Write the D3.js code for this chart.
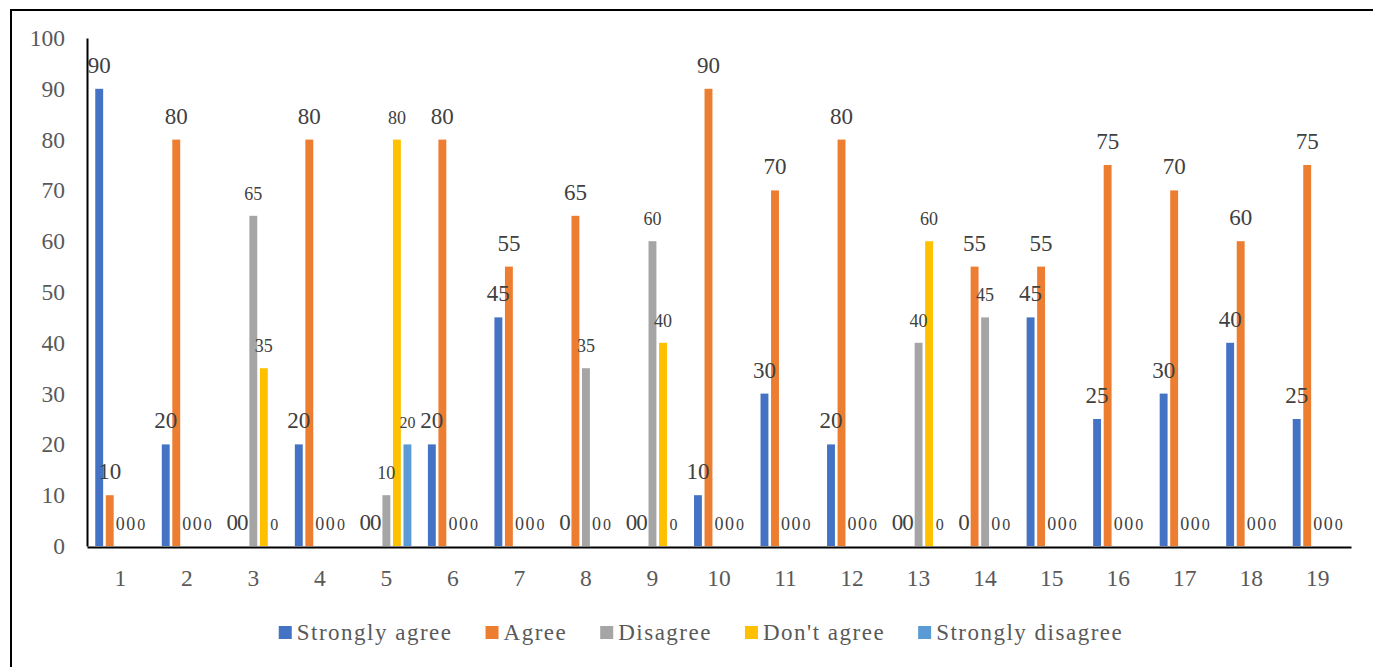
<!DOCTYPE html>
<html>
<head>
<meta charset="utf-8">
<script src="https://cdn.jsdelivr.net/npm/d3@7"></script>
<style>
  html, body { margin: 0; padding: 0; background: #fff; }
  svg { display: block; }
  text { font-family: "Palatino Linotype", "Book Antiqua", Palatino, "Liberation Serif", serif; }
</style>
</head>
<body>
<svg id="chart" width="1373" height="667"></svg>
<script>
// Survey responses per question (percent of respondents)
const questions = ["1","2","3","4","5","6","7","8","9","10","11","12","13","14","15","16","17","18","19"];
const seriesNames = ["Strongly agree", "Agree", "Disagree", "Don't agree", "Strongly disagree"];
const stronglyAgree    = [90, 20,  0, 20,  0, 20, 45,  0,  0, 10, 30, 20,  0,  0, 45, 25, 30, 40, 25];
const agree            = [10, 80,  0, 80,  0, 80, 55, 65,  0, 90, 70, 80,  0, 55, 55, 75, 70, 60, 75];
const disagree         = [ 0,  0, 65,  0, 10,  0,  0, 35, 60,  0,  0,  0, 40, 45,  0,  0,  0,  0,  0];
const dontAgree        = [ 0,  0, 35,  0, 80,  0,  0,  0, 40,  0,  0,  0, 60,  0,  0,  0,  0,  0,  0];
const stronglyDisagree = [ 0,  0,  0,  0, 20,  0,  0,  0,  0,  0,  0,  0,  0,  0,  0,  0,  0,  0,  0];
const yTicks = [0, 10, 20, 30, 40, 50, 60, 70, 80, 90, 100];

const seriesValues = [stronglyAgree, agree, disagree, dontAgree, stronglyDisagree];
const colors = ["#4472C4", "#ED7D31", "#A5A5A5", "#FFC000", "#5B9BD5"];
const labelSizes = [23, 23, 18, 18, 16];
const FONT = "\"Palatino Linotype\", \"Book Antiqua\", Palatino, \"Liberation Serif\", serif";

const svg = d3.select("#chart");
const W = 1373, H = 667;
const plot = { left: 87, right: 1351, top: 38, bottom: 546 };

// outer frame
svg.append("rect")
  .attr("x", 11).attr("y", 10)
  .attr("width", W + 40).attr("height", H + 40)
  .attr("fill", "none").attr("stroke", "#000").attr("stroke-width", 2);

const x = d3.scaleBand().domain(questions).range([plot.left, plot.right]).padding(0);
const sub = d3.scaleBand().domain(seriesNames).range([-25, 25]).paddingInner(0.25).paddingOuter(0);
const y = d3.scaleLinear().domain([0, 100]).range([plot.bottom, plot.top]);

// bars + value labels
const rows = [];
seriesNames.forEach((s, si) => {
  questions.forEach((q, qi) => rows.push({ s, si, q, v: seriesValues[si][qi] }));
});

const g = svg.append("g");
g.selectAll("rect.bar").data(rows).join("rect")
  .attr("class", "bar")
  .attr("x", d => x(d.q) + x.bandwidth() / 2 + sub(d.s))
  .attr("width", sub.bandwidth())
  .attr("y", d => y(d.v))
  .attr("height", d => y(0) - y(d.v))
  .attr("fill", d => colors[d.si]);

g.selectAll("text.lbl").data(rows).join("text")
  .attr("class", "lbl")
  .attr("x", d => x(d.q) + x.bandwidth() / 2 + sub(d.s) + sub.bandwidth() / 2)
  .attr("y", d => y(d.v) - 16)
  .attr("text-anchor", "middle")
  .attr("font-size", d => labelSizes[d.si])
  .attr("fill", "#404040")
  .text(d => d.v);

// axes
const yAxis = svg.append("g")
  .attr("transform", `translate(${plot.left},0)`)
  .call(d3.axisLeft(y).tickValues(yTicks).tickSize(0).tickSizeOuter(0).tickPadding(22));
yAxis.select(".domain").attr("stroke", "#000").attr("stroke-width", 2);
yAxis.selectAll("text").attr("font-size", 23.5).attr("fill", "#595959").attr("font-family", FONT);

const xAxis = svg.append("g")
  .attr("transform", `translate(0,${plot.bottom + 1})`)
  .call(d3.axisBottom(x).tickSize(0).tickSizeOuter(0).tickPadding(22));
xAxis.select(".domain").attr("stroke", "#000").attr("stroke-width", 2);
xAxis.selectAll("text").attr("font-size", 23.5).attr("fill", "#595959").attr("font-family", FONT);

// legend
const legend = svg.append("g");
const items = legend.selectAll("g").data(seriesNames).join("g");
items.append("rect")
  .attr("width", 13).attr("height", 13)
  .attr("y", 626)
  .attr("fill", (d, i) => colors[i]);
items.append("text")
  .attr("y", 640)
  .attr("font-size", 23)
  .attr("letter-spacing", 1.5)
  .attr("fill", "#595959")
  .text(d => d);
const widths = [];
items.select("text").each(function () { widths.push(this.getComputedTextLength()); });
const itemW = widths.map(w => 13 + 5 + w);
const gap = 33;
const total = d3.sum(itemW) + gap * (itemW.length - 1);
let cx = 701 - total / 2;
items.each(function (d, i) {
  const it = d3.select(this);
  it.select("rect").attr("x", cx);
  it.select("text").attr("x", cx + 18);
  cx += itemW[i] + gap;
});
</script>
</body>
</html>
